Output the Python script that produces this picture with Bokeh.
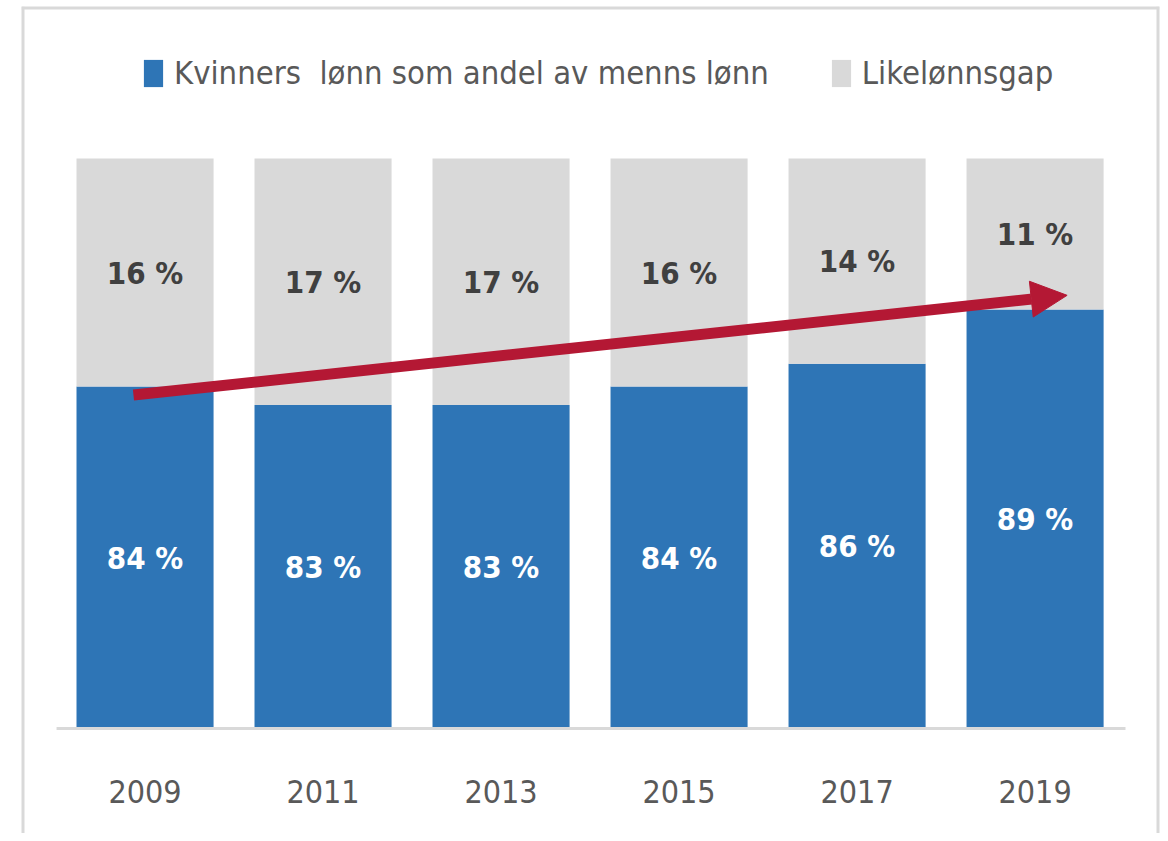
from bokeh.plotting import figure
from bokeh.models import ColumnDataSource, Legend, LegendItem, Arrow, NormalHead, Range1d
from bokeh.core.properties import value
from bokeh.embed import file_html
from bokeh.resources import INLINE

# ---- data ----
years = ["2009", "2011", "2013", "2015", "2017", "2019"]
women_share = [84.0, 82.7, 82.7, 84.0, 85.6, 89.4]      # Kvinners lønn som andel av menns lønn
gap = [16.0, 17.3, 17.3, 16.0, 14.4, 10.6]              # Likelønnsgap
women_labels = ["84 %", "83 %", "83 %", "84 %", "86 %", "89 %"]
gap_labels = ["16 %", "17 %", "17 %", "16 %", "14 %", "11 %"]
series_names = ["Kvinners  lønn som andel av menns lønn", "Likelønnsgap"]

FONT = "'DejaVu Sans Condensed', 'Open Sans', sans-serif"
BLUE = "#2E75B6"
GREY = "#D9D9D9"
RED = "#B41834"
AXIS_MIN = 60             # value axis starts at 60 %
CAT_SPAN = (-0.497, 5.508)  # extent of the category axis line
X_RANGE = (-0.694, 5.699)
Y_RANGE = (52.63, 110.67)

xs = list(range(len(years)))
src = ColumnDataSource(dict(
    x=xs, women=women_share, gap=gap,
    base=[AXIS_MIN] * len(xs),
    total=[w + g for w, g in zip(women_share, gap)],
    women_mid=[(AXIS_MIN + w) / 2 for w in women_share],
    gap_mid=[w + g / 2 for w, g in zip(women_share, gap)],
    women_lab=women_labels, gap_lab=gap_labels,
    year=years, year_y=[AXIS_MIN - 4.42] * len(xs),
))

W, H = 1160, 833
p = figure(width=W, height=H, output_backend="svg", toolbar_location=None,
           x_range=Range1d(*X_RANGE), y_range=Range1d(*Y_RANGE),
           min_border_left=21, min_border_right=W - 1159, min_border_top=6,
           min_border_bottom=0)
p.outline_line_color = None
p.grid.visible = False
p.axis.visible = False
p.background_fill_color = "white"
p.border_fill_color = "white"

r_w = p.vbar(x="x", bottom="base", top="women", width=0.77, source=src,
             fill_color=BLUE, line_color=None)
r_g = p.vbar(x="x", bottom="women", top="total", width=0.77, source=src,
             fill_color=GREY, line_color=None)

# category axis line and year labels
p.segment(x0=[CAT_SPAN[0]], x1=[CAT_SPAN[1]], y0=[AXIS_MIN], y1=[AXIS_MIN],
          line_color=GREY, line_width=3)
p.text(x="x", y="year_y", text="year", source=src,
       text_font=value(FONT), text_font_size="32px", text_color="#595959",
       text_align="center", text_baseline="middle")

# data labels
p.text(x="x", y="women_mid", text="women_lab", source=src,
       text_font=value(FONT), text_font_style="bold", text_font_size="31px",
       text_color="white", text_align="center", text_baseline="middle")
p.text(x="x", y="gap_mid", text="gap_lab", source=src,
       text_font=value(FONT), text_font_style="bold", text_font_size="31px",
       text_color="#404040", text_align="center", text_baseline="middle")

# outer chart border (left, top, right edges of the chart area)
ex0, ex1 = X_RANGE
ey0, ey1 = Y_RANGE
p.segment(x0=[ex0, ex0, ex1], x1=[ex0, ex1, ex1], y0=[ey0, ey1, ey1],
          y1=[ey1, ey1, ey0], line_color=GREY, line_width=6)

# trend arrow
p.add_layout(Arrow(end=NormalHead(size=36, fill_color=RED, line_color=RED),
                   x_start=-0.065, y_start=83.4, x_end=5.18, y_end=90.4,
                   line_color=RED, line_width=11))

legend = Legend(items=[LegendItem(label=series_names[0], renderers=[r_w]),
                       LegendItem(label=series_names[1], renderers=[r_g])],
                orientation="horizontal", location=(120, 741),
                glyph_width=24, glyph_height=34, label_standoff=9, spacing=60,
                padding=0, margin=0, border_line_color=None,
                background_fill_alpha=0,
                label_text_font=FONT, label_text_font_size="32.5px",
                label_text_color="#595959")
p.add_layout(legend)

open("out.html", "w").write(file_html(p, INLINE))
